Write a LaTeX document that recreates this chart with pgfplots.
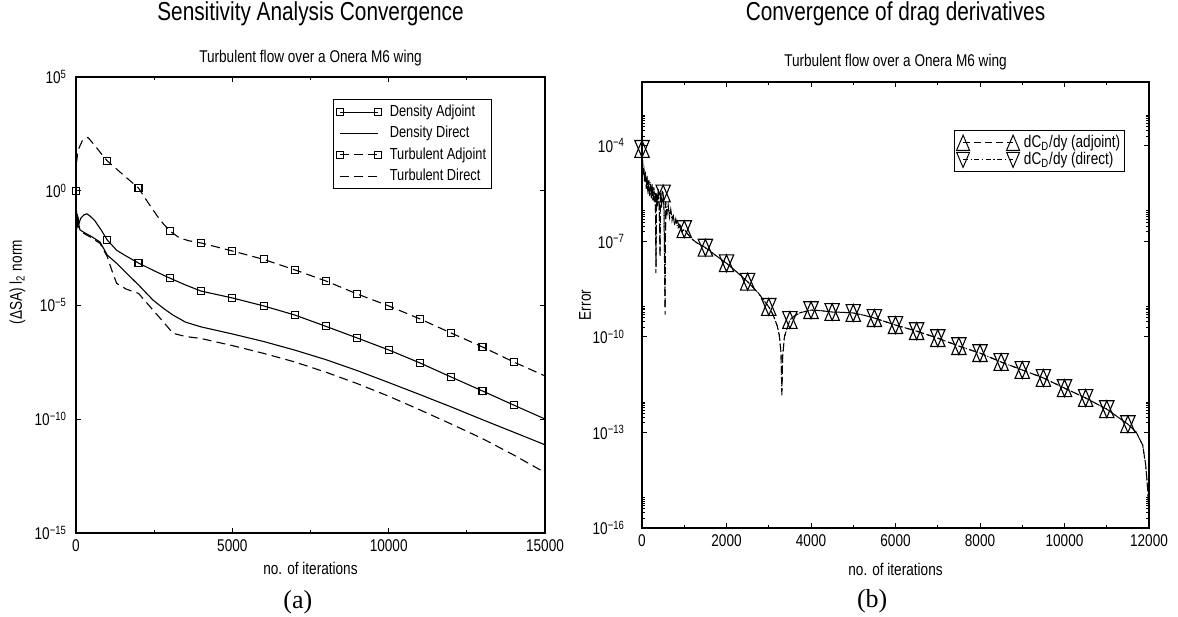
\documentclass[border=0pt]{standalone}
\usepackage{fontspec}
\setmainfont{Liberation Sans}[FakeStretch=0.8]
\newfontfamily\capfont{Liberation Serif}
\usepackage{pgfplots}
\pgfplotsset{compat=1.18}
\usepackage{pgfplotstable}

\pgfdeclareplotmark{tup}{%
 \pgfpathmoveto{\pgfqpoint{-3.6pt}{-4.2pt}}%
 \pgfpathlineto{\pgfqpoint{3.6pt}{-4.2pt}}%
 \pgfpathlineto{\pgfqpoint{0pt}{4.2pt}}%
 \pgfpathclose\pgfusepathqstroke}
\pgfdeclareplotmark{tdown}{%
 \pgfpathmoveto{\pgfqpoint{-3.6pt}{4.2pt}}%
 \pgfpathlineto{\pgfqpoint{3.6pt}{4.2pt}}%
 \pgfpathlineto{\pgfqpoint{0pt}{-4.2pt}}%
 \pgfpathclose\pgfusepathqstroke}

% ---------- left chart (log10 of the l2 norm) ----------
\pgfplotstableread{
it L
0 0
15 -0.9
30 -1.4
45 -1.1
60 -1.5
80 -1.3
100 -1.4
150 -1.2
250 -1.05
350 -1.0
450 -1.1
600 -1.3
800 -1.7
1000 -2.15
1300 -2.6
1600 -2.85
2000 -3.16
2500 -3.5
3000 -3.82
3500 -4.12
4000 -4.39
5000 -4.69
6000 -5.04
7000 -5.44
8000 -5.94
9000 -6.45
10000 -6.97
11000 -7.54
12000 -8.16
13000 -8.77
14000 -9.39
15000 -10.0
}\DAline
\pgfplotstableread{
it L
0 0
1000 -2.15
2000 -3.16
3000 -3.82
4000 -4.39
5000 -4.69
6000 -5.04
7000 -5.44
8000 -5.94
9000 -6.45
10000 -6.97
11000 -7.54
12000 -8.16
13000 -8.77
14000 -9.39
}\DAmk
\pgfplotstableread{
it L
0 -0.6
20 -1.2
40 -1.0
60 -1.5
80 -1.3
100 -1.6
130 -1.71
300 -1.85
500 -2.0
770 -2.24
1000 -2.81
1300 -3.17
1650 -3.65
2000 -4.12
2460 -4.78
2800 -5.15
3100 -5.44
3500 -5.75
4000 -5.96
5000 -6.27
6000 -6.6
7000 -6.98
8000 -7.4
9000 -7.88
10000 -8.4
11000 -8.93
12000 -9.47
13000 -10.03
14000 -10.58
15000 -11.13
}\DDline
\pgfplotstableread{
it L
0 0
10 1.2
50 1.6
100 1.9
200 2.2
380 2.35
600 2.0
800 1.65
1000 1.32
1500 0.72
2000 0.13
2300 -0.5
2600 -1.1
2800 -1.45
3000 -1.75
3300 -2.05
3600 -2.18
4000 -2.28
5000 -2.63
6000 -3.0
7000 -3.46
8000 -3.95
9000 -4.52
10000 -5.04
11000 -5.61
12000 -6.23
13000 -6.84
14000 -7.5
15000 -8.11
}\TAline
\pgfplotstableread{
it L
0 0
1000 1.32
2000 0.13
3000 -1.75
4000 -2.28
5000 -2.63
6000 -3.0
7000 -3.46
8000 -3.95
9000 -4.52
10000 -5.04
11000 -5.61
12000 -6.23
13000 -6.84
14000 -7.5
}\TAmk
\pgfplotstableread{
it L
0 -0.8
30 -1.3
60 -1.6
100 -1.55
130 -1.75
300 -1.9
500 -2.05
770 -2.3
1000 -2.88
1150 -3.5
1300 -4.05
1600 -4.3
2000 -4.49
2460 -5.22
2800 -5.75
3100 -6.24
3500 -6.38
4000 -6.47
5000 -6.78
6000 -7.12
7000 -7.5
8000 -7.95
9000 -8.45
10000 -9.0
11000 -9.6
12000 -10.22
13000 -10.86
14000 -11.58
15000 -12.35
}\TDline

% ---------- right chart (log10 of the error) ----------
\pgfplotstableread{
it L
0 -4.1
15 -4.5
30 -4.9
45 -4.7
60 -5.1
80 -4.85
100 -5.3
120 -5.0
140 -5.45
160 -5.1
180 -5.55
200 -5.2
220 -5.6
240 -5.25
260 -5.7
280 -5.35
300 -5.75
315 -5.5
330 -8.0
345 -5.5
365 -5.85
385 -5.4
405 -5.8
426 -7.5
440 -5.5
460 -5.9
480 -5.45
500 -5.5
520 -5.9
545 -9.3
560 -5.8
590 -6.1
620 -5.9
650 -6.2
680 -6.05
710 -6.3
740 -6.2
770 -6.45
800 -6.35
850 -6.55
900 -6.5
950 -6.65
1000 -6.62
1100 -6.8
1200 -6.95
1300 -7.05
1400 -7.12
1500 -7.2
1750 -7.45
2000 -7.69
2250 -7.97
2500 -8.27
2750 -8.62
3000 -9.06
3100 -9.3
3200 -9.65
3250 -9.95
3290 -10.5
3310 -11.9
3330 -10.6
3370 -10.0
3430 -9.75
3500 -9.47
3600 -9.35
3750 -9.24
4000 -9.16
4250 -9.18
4500 -9.22
4750 -9.23
5000 -9.25
5250 -9.32
5500 -9.41
6000 -9.63
6500 -9.82
7000 -10.04
7500 -10.29
8000 -10.51
8500 -10.79
9000 -11.04
9500 -11.29
10000 -11.61
10500 -11.92
11000 -12.27
11500 -12.74
11700 -13.0
11850 -13.4
11920 -14.0
11970 -14.8
11990 -15.4
12000 -16
}\RAline
\pgfplotstableread{
it L
0 -4.1
15 -4.55
30 -4.85
45 -4.75
60 -5.15
80 -4.8
100 -5.35
120 -4.95
140 -5.5
160 -5.05
180 -5.6
200 -5.15
220 -5.65
240 -5.2
260 -5.75
280 -5.3
300 -5.8
315 -5.45
333 -7.8
345 -5.55
365 -5.9
385 -5.35
405 -5.85
428 -7.3
440 -5.45
460 -5.95
480 -5.4
500 -5.5
520 -5.95
547 -9.1
560 -5.75
590 -6.15
620 -5.85
650 -6.25
680 -6.0
710 -6.35
740 -6.15
770 -6.5
800 -6.3
850 -6.6
900 -6.45
950 -6.7
1000 -6.62
1100 -6.8
1200 -6.95
1300 -7.05
1400 -7.12
1500 -7.2
1750 -7.45
2000 -7.69
2250 -7.97
2500 -8.27
2750 -8.62
3000 -9.06
3100 -9.3
3200 -9.65
3250 -9.95
3290 -10.5
3310 -11.7
3330 -10.6
3370 -10.0
3430 -9.75
3500 -9.47
3600 -9.35
3750 -9.24
4000 -9.16
4250 -9.18
4500 -9.22
4750 -9.23
5000 -9.25
5250 -9.32
5500 -9.41
6000 -9.63
6500 -9.82
7000 -10.04
7500 -10.29
8000 -10.51
8500 -10.79
9000 -11.04
9500 -11.29
10000 -11.61
10500 -11.92
11000 -12.27
11500 -12.74
11700 -13.0
11850 -13.4
11920 -14.0
11970 -14.8
11990 -15.4
12000 -16
}\RDline
\pgfplotstableread{
it L
0 -4.1
500 -5.5
1000 -6.62
1500 -7.2
2000 -7.69
2500 -8.27
3000 -9.06
3500 -9.47
4000 -9.16
4500 -9.22
5000 -9.25
5500 -9.41
6000 -9.63
6500 -9.82
7000 -10.04
7500 -10.29
8000 -10.51
8500 -10.79
9000 -11.04
9500 -11.29
10000 -11.61
10500 -11.92
11000 -12.27
11500 -12.74
}\Rmk

\tikzset{
  mylin/.style={black, line width=0.55pt},
  mydsh/.style={black, line width=0.55pt, dash pattern=on 4.5pt off 2.6pt},
  myradj/.style={black, line width=0.5pt, dash pattern=on 3.5pt off 2pt},
  myrdir/.style={black, line width=0.5pt, dash pattern=on 2.5pt off 1.3pt on 0.6pt off 1.3pt},
}
\pgfplotsset{
  legA/.style={legend image code/.code={\draw[##1] plot coordinates {(0pt,0pt) (19pt,0pt)};}},
  legB/.style={legend image code/.code={\draw[##1] plot coordinates {(0pt,0pt) (25pt,0pt)};}},
  myaxcommon/.style={
    scale only axis,
    clip mode=individual,
    axis line style={line width=0.6pt},
    every tick/.style={black, line width=0.5pt},
    tick align=inside,
    major tick length=2.6pt, minor tick length=1.6pt,
    scaled x ticks=false,
    /pgf/number format/assume math mode=true,
    /pgf/number format/1000 sep={},
    tick label style={font=\fontsize{8.5}{10}\selectfont},
    label style={font=\fontsize{8.5}{10}\selectfont},
    title style={font=\fontsize{13}{15}\selectfont, anchor=base},
    xlabel style={anchor=base},
    legend cell align=left,
  },
}

\begin{document}
\begin{tikzpicture}
\path[use as bounding box] (0pt,0pt) rectangle (589pt,308pt);

% ================= (a) =================
\begin{axis}[myaxcommon, ymode=log, legA,
  at={(38pt,41.5pt)}, anchor=south west,
  width=234.5pt, height=228pt,
  xmin=0, xmax=15000, ymin=1e-15, ymax=1e5,
  xtick={0,5000,10000,15000}, minor xtick={2500,7500,12500},
  ytick={1e-15,1e-10,1e-5,1,1e5},
  yticklabels={10\textsuperscript{−15},10\textsuperscript{−10},10\textsuperscript{−5},10\textsuperscript{0},10\textsuperscript{5}},
  yticklabel style={xshift=-1pt},
  title={Sensitivity Analysis Convergence},
  title style={at={(0.5,1.0965)}},
  xlabel={no. of iterations},
  xlabel style={at={(0.5,-0.092)}},
  ylabel={(ΔSA) l\textsubscript{2} norm},
  ylabel style={at={(-0.1247,0.55)}, anchor=center},
  legend style={at={(0.887,0.952)}, anchor=north east, draw=black, line width=0.5pt,
    font=\fontsize{8}{9}\selectfont, inner sep=1.5pt, row sep=1pt, column sep=3pt,
    nodes={inner sep=1.2pt}},
]
\addplot[mylin, forget plot] table[x=it, y expr=10^(\thisrow{L})] {\DAline};
\addplot[black, only marks, mark=square, mark size=1.75pt, mark options={line width=0.55pt}, forget plot] table[x=it, y expr=10^(\thisrow{L})] {\DAmk};
\addplot[mylin, forget plot] table[x=it, y expr=10^(\thisrow{L})] {\DDline};
\addplot[mydsh, forget plot] table[x=it, y expr=10^(\thisrow{L})] {\TAline};
\addplot[black, only marks, mark=square, mark size=1.75pt, mark options={line width=0.55pt}, forget plot] table[x=it, y expr=10^(\thisrow{L})] {\TAmk};
\addplot[mydsh, forget plot] table[x=it, y expr=10^(\thisrow{L})] {\TDline};
\addlegendimage{mylin, mark=square, mark size=1.75pt, mark options={solid}}
\addlegendentry{Density Adjoint}
\addlegendimage{mylin}
\addlegendentry{Density Direct}
\addlegendimage{mydsh, mark=square, mark size=1.75pt, mark options={solid}}
\addlegendentry{Turbulent Adjoint}
\addlegendimage{mydsh}
\addlegendentry{Turbulent Direct}
\node[anchor=base, font=\fontsize{8.5}{10}\selectfont] at (rel axis cs:0.5,1.0307) {Turbulent flow over a Onera M6 wing};
\node[anchor=base, font=\capfont\fontsize{13}{15}\selectfont] at (rel axis cs:0.473,-0.1645) {(a)};
\end{axis}

% ================= (b) =================
\begin{axis}[myaxcommon, ymode=log, legB,
  at={(321pt,44pt)}, anchor=south west,
  width=253.5pt, height=223pt,
  xmin=0, xmax=12000, ymin=1e-16, ymax=1e-2,
  xtick={0,2000,4000,6000,8000,10000,12000},
  minor xtick={1000,3000,5000,7000,9000,11000},
  ytick={1e-16,1e-13,1e-10,1e-7,1e-4},
  yticklabels={10\textsuperscript{−16},10\textsuperscript{−13},10\textsuperscript{−10},10\textsuperscript{−7},10\textsuperscript{−4}},
  minor ytick={2e-16,3e-16,4e-16,5e-16,6e-16,7e-16,8e-16,9e-16,
               2e-13,3e-13,4e-13,5e-13,6e-13,7e-13,8e-13,9e-13,
               2e-10,3e-10,4e-10,5e-10,6e-10,7e-10,8e-10,9e-10,
               2e-7,3e-7,4e-7,5e-7,6e-7,7e-7,8e-7,9e-7,
               2e-4,3e-4,4e-4,5e-4,6e-4,7e-4,8e-4,9e-4},
  yticklabel style={xshift=-5pt},
  title={Convergence of drag derivatives},
  title style={at={(0.5,1.110)}},
  xlabel={no. of iterations},
  xlabel style={at={(0.5,-0.1054)}},
  ylabel={Error},
  ylabel style={at={(-0.1124,0.5)}, anchor=center},
  legend style={at={(0.953,0.892)}, anchor=north east, draw=black, line width=0.5pt,
    font=\fontsize{8.5}{9.5}\selectfont, inner sep=1pt, row sep=-1.5pt, column sep=1pt,
    nodes={inner sep=1.2pt}},
]
\addplot[myradj, forget plot] table[x=it, y expr=10^(\thisrow{L})] {\RAline};
\addplot[myrdir, forget plot] table[x=it, y expr=10^(\thisrow{L})] {\RDline};
\addplot[black, only marks, mark=tup, mark options={line width=0.55pt}, forget plot] table[x=it, y expr=10^(\thisrow{L})] {\Rmk};
\addplot[black, only marks, mark=tdown, mark options={line width=0.55pt}, forget plot] table[x=it, y expr=10^(\thisrow{L})] {\Rmk};
\addlegendimage{myradj, mark=tup, mark options={solid, scale=0.9}}
\addlegendentry{dC\textsubscript{D}/dy (adjoint)}
\addlegendimage{myrdir, mark=tdown, mark options={solid, scale=0.9}}
\addlegendentry{dC\textsubscript{D}/dy (direct)}
\node[anchor=base, font=\fontsize{8.5}{10}\selectfont] at (rel axis cs:0.5,1.0343) {Turbulent flow over a Onera M6 wing};
\node[anchor=base, font=\capfont\fontsize{13}{15}\selectfont] at (rel axis cs:0.454,-0.179) {(b)};
\end{axis}
\end{tikzpicture}
\end{document}
